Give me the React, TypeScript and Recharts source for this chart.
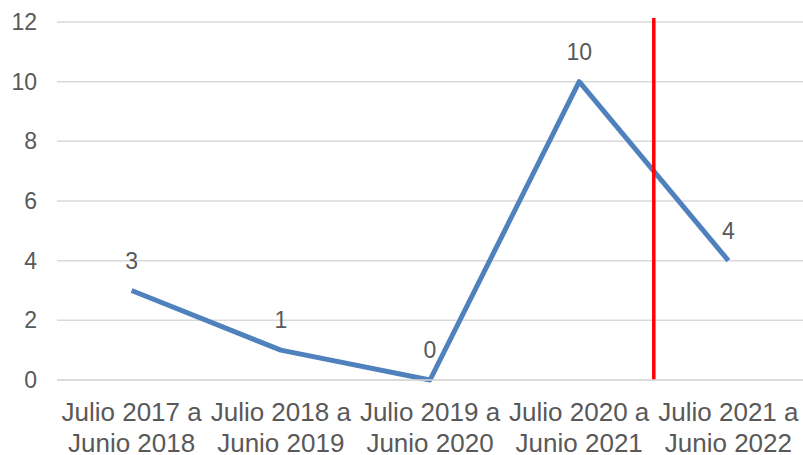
import React from "react";
import { LineChart, Line, XAxis, YAxis, CartesianGrid, ReferenceLine, LabelList } from "recharts";

const periodStart = ["Julio 2017 a", "Julio 2018 a", "Julio 2019 a", "Julio 2020 a", "Julio 2021 a"];
const periodEnd = ["Junio 2018", "Junio 2019", "Junio 2020", "Junio 2021", "Junio 2022"];
const values = [3, 1, 0, 10, 4];
const yTicks = [0, 2, 4, 6, 8, 10, 12];
const markerPosition = 3.5;

const data = values.map((v, i) => ({ idx: i, value: v }));
const xTicks = values.map((_, i) => i);

const FONT = "'Liberation Sans', Arial, sans-serif";
const TEXT = "#595959";

const XTick = (props: any) => {
  const { x, payload } = props;
  const i = payload.value as number;
  const top = 380;
  return (
    <text x={x} y={top} textAnchor="middle" fill={TEXT} fontFamily={FONT} fontSize={26}>
      <tspan x={x} dy={41}>{periodStart[i]}</tspan>
      <tspan x={x} dy={31}>{periodEnd[i]}</tspan>
    </text>
  );
};

export default function App() {
  return (
    <div style={{ position: "absolute", left: 0, top: 0, background: "#fff" }}>
      <LineChart width={803} height={455} data={data} margin={{ top: 22, right: 0, bottom: 0, left: 0 }}>
        <CartesianGrid vertical={false} stroke="#d9d9d9" strokeWidth={1.5} />
        <XAxis
          dataKey="idx"
          type="number"
          domain={[-0.5, 4.5]}
          ticks={xTicks}
          interval={0}
          height={75}
          tickLine={false}
          axisLine={{ stroke: "#d9d9d9", strokeWidth: 1.5 }}
          tick={<XTick />}
        />
        <YAxis
          domain={[0, 12]}
          ticks={yTicks}
          width={57}
          axisLine={false}
          tickLine={false}
          tickSize={0}
          tickMargin={20}
          tick={{ fill: TEXT, fontFamily: FONT, fontSize: 23 }}
        />
        <Line
          dataKey="value"
          stroke="#4f81bd"
          strokeWidth={5}
          dot={false}
          isAnimationActive={false}
          strokeLinejoin="round"
        >
          <LabelList dataKey="value" position="top" offset={22} fill={TEXT} fontFamily={FONT} fontSize={23} />
        </Line>
        <ReferenceLine
          segment={[{ x: markerPosition, y: 0 }, { x: markerPosition, y: 12.13 }]}
          stroke="#ff0000"
          strokeWidth={3.5}
          ifOverflow="visible"
        />
      </LineChart>
    </div>
  );
}
